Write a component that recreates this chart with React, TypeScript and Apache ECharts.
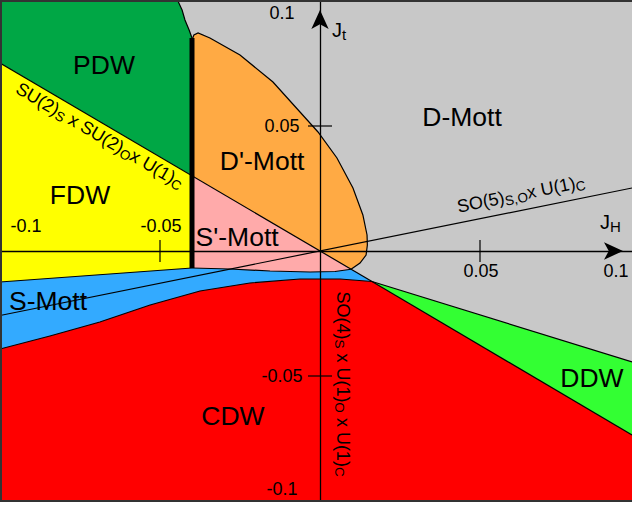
import React, { useEffect, useRef } from 'react';
import * as echarts from 'echarts';

const W = 632;
const H = 506;
const FONT = '"Liberation Sans", Arial, Helvetica, sans-serif';

// axis ranges: J_H (horizontal) and J_t (vertical)
const xMin = -0.1;
const xMax = 0.0975;
const yMin = -0.1;
const yMax = 0.1;

const xTickValues = [-0.1, -0.05, 0.05, 0.1];
const xTickLabels = ['-0.1', '-0.05', '0.05', '0.1'];
const yTickValues = [0.1, 0.05, -0.05, -0.1];
const yTickLabels = ['0.1', '0.05', '-0.05', '-0.1'];

// phase boundaries, points as [J_H, J_t]
const su2Line = [[-0.1, 0.0752], [0.01625, -0.0122]];
const so5Line = [[-0.1, -0.0258], [0.0975, 0.0252]];
const firstOrderLine = [[-0.04, 0.0852], [-0.04, -0.0068]];
const pdwBoundary = [[-0.0444, 0.1], [-0.0431, 0.0964], [-0.0422, 0.0924], [-0.0409, 0.0884], [-0.04, 0.0852]];
const dPrimeBoundary = [
  [-0.04, 0.0844], [-0.0394, 0.0864], [-0.0381, 0.0872], [-0.0344, 0.0852], [-0.025, 0.0784],
  [-0.0147, 0.0676], [-0.00625, 0.0556], [-0.000625, 0.0476], [0.0053, 0.0372], [0.0103, 0.0252],
  [0.0134, 0.0144], [0.0147, 0.0064], [0.0148, 0.0024], [0.0144, -0.0016], [0.0125, -0.0048], [0.0097, -0.0073],
];
const sPrimeBoundary = [[-0.04, -0.0068], [-0.0281, -0.0072], [-0.0156, -0.008], [-0.0031, -0.0084], [0.0047, -0.0082], [0.0097, -0.0073]];
const fdwBoundary = [[-0.1, -0.0124], [-0.04, -0.0068]];
const cdwBoundary = [
  [-0.1, -0.0392], [-0.0844, -0.034], [-0.0688, -0.0284], [-0.0531, -0.0216], [-0.0375, -0.016],
  [-0.0219, -0.0128], [-0.00625, -0.0112], [0.00625, -0.0112], [0.01625, -0.0122],
];
const ddwUpper = [[0.01625, -0.0122], [0.0975, -0.0444]];
const ddwLower = [[0.01625, -0.0122], [0.0975, -0.0736]];

// phase labels
const phaseNames = ['D-Mott', 'PDW', 'FDW', "D'-Mott", "S'-Mott", 'S-Mott', 'CDW', 'DDW'];
const phaseLabelJH = [0.0444, -0.0675, -0.075, -0.0181, -0.0259, -0.085, -0.0272, 0.085];
const phaseLabelJt = [0.0536, 0.0744, 0.0224, 0.036, 0.0056, -0.02, -0.066, -0.0508];

// symmetry labels
const symmetryTexts = [
  '{m|SU(2)}{s|S}{m| x SU(2)}{s|O}{m|x U(1)}{s|C}',
  '{m|SO(5)}{s|S,O}{m|x U(1)}{s|C}',
  '{m|SO(4)}{s|S}{m| x U(1)}{s|O}{m| x U(1)}{s|C}',
];
const symmetryJH = [-0.0688, 0.0628, 0.0072];
const symmetryJt = [0.0462, 0.0228, -0.0532];

// axis names
const axisNames = ['{m|J}{s|t}', '{m|J}{s|H}'];
const axisNameJH = [0.00375, 0.0875];
const axisNameJt = [0.0886, 0.0118];

const phaseColors: Record<string, string> = {
  'D-Mott': '#c8c8c8',
  PDW: '#00a745',
  FDW: '#ffff00',
  "D'-Mott": '#ffaa44',
  "S'-Mott": '#ffaaaa',
  'S-Mott': '#33aaff',
  CDW: '#ff0000',
  DDW: '#33ff33',
};

const rev = (a: number[][]) => a.slice().reverse();
const yOnLine = (line: number[][], x: number) => {
  const [[x1, y1], [x2, y2]] = line;
  return y1 + ((y2 - y1) * (x - x1)) / (x2 - x1);
};

function buildRegions() {
  const xFO = firstOrderLine[0][0];
  const cross = [xFO, yOnLine(su2Line, xFO)];
  const T = su2Line[1];
  const dEnd = dPrimeBoundary[dPrimeBoundary.length - 1];
  return [
    { name: 'D-Mott', pts: [[xMin, yMin], [xMax, yMin], [xMax, yMax], [xMin, yMax]] },
    { name: 'PDW', pts: [[xMin, yMax], ...pdwBoundary, cross, su2Line[0]] },
    { name: 'FDW', pts: [su2Line[0], cross, ...rev(fdwBoundary)] },
    { name: "D'-Mott", pts: [cross, ...dPrimeBoundary] },
    { name: "S'-Mott", pts: [cross, dEnd, ...rev(sPrimeBoundary)] },
    { name: 'S-Mott', pts: [...fdwBoundary, ...sPrimeBoundary, T, ...rev(cdwBoundary)] },
    { name: 'CDW', pts: [...cdwBoundary, ddwLower[1], [xMax, yMin], [xMin, yMin]] },
    { name: 'DDW', pts: [T, ddwUpper[1], ddwLower[1]] },
  ];
}

const boundaryLines = [su2Line, so5Line, pdwBoundary, dPrimeBoundary, sPrimeBoundary, fdwBoundary, cdwBoundary, ddwUpper, ddwLower];

function buildOption() {
  const regions = buildRegions();
  const symRich = {
    m: { fontSize: 18, fontFamily: FONT, lineHeight: 22, fill: '#000' },
    s: { fontSize: 13.5, fontFamily: FONT, lineHeight: 8, verticalAlign: 'bottom', fill: '#000' },
  };
  const nameRich = {
    m: { fontSize: 20, fontFamily: FONT, lineHeight: 24, fill: '#000' },
    s: { fontSize: 15, fontFamily: FONT, lineHeight: 8, verticalAlign: 'bottom', fill: '#000' },
  };

  const axisCommon = {
    type: 'value',
    axisTick: { show: false },
    axisLabel: { show: false },
    splitLine: { show: false },
    z: 10,
  };

  const ticks: { axis: 'x' | 'y'; v: number; label: string }[] = [
    ...xTickValues.map((v, i) => ({ axis: 'x' as const, v, label: xTickLabels[i] })),
    ...yTickValues.map((v, i) => ({ axis: 'y' as const, v, label: yTickLabels[i] })),
  ];

  return {
    animation: false,
    grid: { left: 0, top: 1, width: 632, height: 500, containLabel: false },
    xAxis: {
      ...axisCommon,
      min: xMin,
      max: xMax,
      axisLine: {
        onZero: true,
        lineStyle: { color: '#000', width: 1.3 },
        symbol: ['none', 'arrow'],
        symbolSize: [13, 19],
        symbolOffset: [0, -9],
      },
    },
    yAxis: {
      ...axisCommon,
      min: yMin,
      max: yMax,
      axisLine: {
        onZero: true,
        lineStyle: { color: '#000', width: 1.3 },
        symbol: ['none', 'arrow'],
        symbolSize: [13, 19],
        symbolOffset: [0, -9],
      },
    },
    graphic: [
      {
        type: 'rect',
        silent: true,
        z: 100,
        shape: { x: 1, y: 1, width: 700, height: 500 },
        style: { fill: 'none', stroke: '#333', lineWidth: 2 },
      },
    ],
    series: [
      {
        type: 'custom',
        coordinateSystem: 'cartesian2d',
        silent: true,
        z: 1,
        data: regions.map(() => [0, 0]),
        renderItem: (params: any, api: any) => {
          const r = regions[params.dataIndex];
          return {
            type: 'polygon',
            shape: { points: r.pts.map((p) => api.coord(p)) },
            style: { fill: phaseColors[r.name] },
          };
        },
      },
      {
        type: 'custom',
        coordinateSystem: 'cartesian2d',
        silent: true,
        z: 2,
        data: boundaryLines.map(() => [0, 0]),
        renderItem: (params: any, api: any) => {
          const pts = boundaryLines[params.dataIndex].map((p) => api.coord(p));
          return {
            type: 'polyline',
            shape: { points: pts },
            style: { stroke: '#000', lineWidth: 1.2, fill: null },
          };
        },
      },
      {
        type: 'custom',
        coordinateSystem: 'cartesian2d',
        silent: true,
        z: 3,
        data: [[0, 0]],
        renderItem: (params: any, api: any) => {
          const a = api.coord(firstOrderLine[0]);
          const b = api.coord(firstOrderLine[1]);
          return {
            type: 'line',
            shape: { x1: a[0], y1: a[1], x2: b[0], y2: b[1] },
            style: { stroke: '#000', lineWidth: 5 },
          };
        },
      },
      {
        type: 'custom',
        coordinateSystem: 'cartesian2d',
        silent: true,
        z: 20,
        data: ticks.map(() => [0, 0]),
        renderItem: (params: any, api: any) => {
          const t = ticks[params.dataIndex];
          const children: any[] = [];
          if (t.axis === 'x') {
            const [px, py] = api.coord([t.v, 0]);
            if (Math.abs(t.v) < 0.099) {
              children.push({ type: 'line', shape: { x1: px, y1: py - 11, x2: px, y2: py + 11 }, style: { stroke: '#000', lineWidth: 1.2 } });
            }
            const cx = Math.min(Math.max(px + 1, 26), 616);
            const cy = t.v < 0 ? py - 25 : py + 20;
            children.push({
              type: 'text',
              style: { text: t.label, x: cx, y: cy, align: 'center', verticalAlign: 'middle', fontSize: 18, fontFamily: FONT, fill: '#000' },
            });
          } else {
            const [px, py] = api.coord([0, t.v]);
            if (Math.abs(t.v) < 0.099) {
              children.push({ type: 'line', shape: { x1: px - 12, y1: py, x2: px + 12, y2: py }, style: { stroke: '#000', lineWidth: 1.2 } });
            }
            const cy = Math.min(Math.max(py, 13), 489);
            children.push({
              type: 'text',
              style: { text: t.label, x: px - 38, y: cy, align: 'center', verticalAlign: 'middle', fontSize: 18, fontFamily: FONT, fill: '#000' },
            });
          }
          return { type: 'group', children };
        },
      },
      {
        type: 'custom',
        coordinateSystem: 'cartesian2d',
        silent: true,
        z: 30,
        data: phaseNames.map(() => [0, 0]),
        renderItem: (params: any, api: any) => {
          const i = params.dataIndex;
          const [x, y] = api.coord([phaseLabelJH[i], phaseLabelJt[i]]);
          return {
            type: 'text',
            style: { text: phaseNames[i], x, y, align: 'center', verticalAlign: 'middle', fontSize: 26.5, fontFamily: FONT, fill: '#000' },
          };
        },
      },
      {
        type: 'custom',
        coordinateSystem: 'cartesian2d',
        silent: true,
        z: 30,
        data: symmetryTexts.map(() => [0, 0]),
        renderItem: (params: any, api: any) => {
          const i = params.dataIndex;
          const [x, y] = api.coord([symmetryJH[i], symmetryJt[i]]);
          let rotation = -Math.PI / 2;
          const line = i === 0 ? su2Line : i === 1 ? so5Line : null;
          if (line) {
            const a = api.coord(line[0]);
            const b = api.coord(line[1]);
            rotation = -Math.atan2(b[1] - a[1], b[0] - a[0]);
          }
          return {
            type: 'text',
            x,
            y,
            rotation,
            style: { text: symmetryTexts[i], rich: symRich, x: 0, y: 0, align: 'center', verticalAlign: 'middle', fontSize: 18, fontFamily: FONT, fill: '#000' },
          };
        },
      },
      {
        type: 'custom',
        coordinateSystem: 'cartesian2d',
        silent: true,
        z: 30,
        data: axisNames.map(() => [0, 0]),
        renderItem: (params: any, api: any) => {
          const i = params.dataIndex;
          const [x, y] = api.coord([axisNameJH[i], axisNameJt[i]]);
          return {
            type: 'text',
            style: { text: axisNames[i], rich: nameRich, x, y, align: 'left', verticalAlign: 'middle', fontSize: 20, fontFamily: FONT, fill: '#000' },
          };
        },
      },
    ],
  };
}

export default function App() {
  const ref = useRef<HTMLDivElement>(null);
  useEffect(() => {
    const chart = echarts.init(ref.current!, null, { renderer: 'svg' });
    chart.setOption(buildOption() as any);
    return () => chart.dispose();
  }, []);
  return <div ref={ref} style={{ position: 'fixed', left: 0, top: 0, width: W, height: H, background: '#fff' }} />;
}
